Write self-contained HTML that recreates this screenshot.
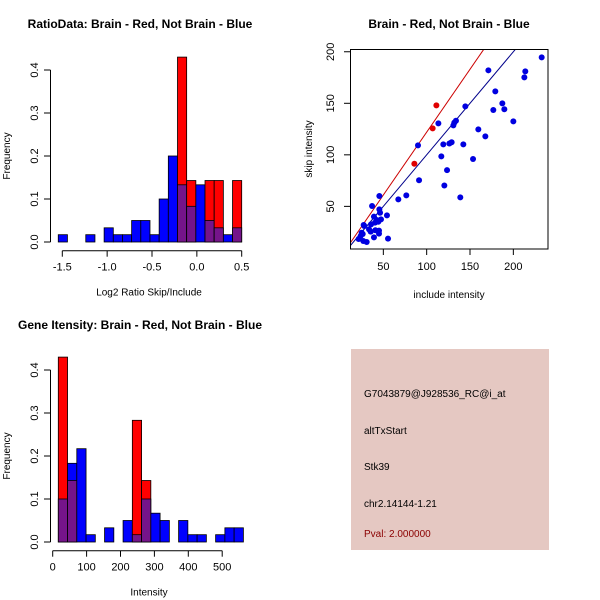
<!DOCTYPE html>
<html><head><meta charset="utf-8"><style>
body{margin:0;background:#fff;}
svg{display:block;font-family:"Liberation Sans",sans-serif;}
</style></head><body>
<svg id="c" width="600" height="600" xmlns="http://www.w3.org/2000/svg"></svg>
<script>
// Ratio histogram (bins of ~0.1025 from -1.545)
const ratioBlue=[0.017,0,0,0.017,0,0.033,0.017,0.017,0.05,0.05,0.017,0.1,0.2,0.133,0.083,0.133,0.05,0.033,0.017,0.033];
const ratioRed=[0,0,0,0,0,0,0,0,0,0,0,0,0,0.43,0.143,0,0.143,0.143,0,0.143];
const ratioXTicks=[-1.5,-1.0,-0.5,0.0,0.5];
const ratioXLabels=["-1.5","-1.0","-0.5","0.0","0.5"];
// Intensity histogram (bins ~27.3 from 16.5)
const intBlue=[0.1,0.183,0.217,0.017,0,0.033,0,0.05,0.017,0.1,0.067,0.05,0,0.05,0.017,0.017,0,0.017,0.033,0.033];
const intRed=[0.43,0.143,0,0,0,0,0,0,0.283,0.143,0,0,0,0,0,0,0,0,0,0];
const intXTicks=[0,100,200,300,400,500];
const freqTicks=[0,0.1,0.2,0.3,0.4];
const freqLabels=["0.0","0.1","0.2","0.3","0.4"];
// Scatter
const blueInc=[232.7,213.8,212.7,171.2,179.2,187.3,176.9,189.6,200,144.6,159.6,167.7,153.5,142.3,138.8,120.4,123.5,116.9,119.2,126.2,128.8,130.8,131.9,133.8,113.5,90,91.2,76.5,67.3,54.2,55.4,45.4,45.4,46.2,47.3,44.2,37,39.2,40.4,42.3,35.8,33.5,28.1,27.3,40.8,45,45,39.2,30.8,26.9,23.8,25,21.5,26.2,35.4];
const blueSkip=[194.6,181,175.2,182,161.6,149.9,143.5,144.2,132.5,147,124.7,117.9,95.9,110.2,58.7,70.3,85.2,98.5,110.2,111,112.2,128.6,131.2,133.1,130.5,109.2,75.3,60.7,56.8,41.3,18.7,60,47.1,43.8,37.4,35.1,50.3,40,34.2,36.8,32.5,27.7,30.9,31.9,26.8,26.5,23.5,19.9,15.4,16.4,21.2,24.4,18.3,23.2,25.5];
const redInc=[111.2,106.9,85.8];
const redSkip=[148,125.7,91.4];
const scXTicks=[50,100,150,200];
const scYTicks=[50,100,150,200];
const redSlope=1.22;

const svg=document.getElementById('c');
const NS='http://www.w3.org/2000/svg';
function el(tag,attrs,parent){const e=document.createElementNS(NS,tag);for(const k in attrs)e.setAttribute(k,attrs[k]);(parent||svg).appendChild(e);return e;}
function txt(x,y,s,attrs){const e=el('text',Object.assign({x:x,y:y},attrs||{}));e.textContent=s;return e;}

function hist(name,blue,red,x0,bw,xs,ys,xTicks,xLabels,axY,xTitle,title,titleY){
  const g=el('g',{});
  
  
  for(let i=0;i<blue.length;i++){
    const b=blue[i],r=red[i];
    const xa=xs(x0+i*bw),xb=xs(x0+(i+1)*bw);
    const mx=Math.max(b,r),mn=Math.min(b,r);
    if(mx<=0)continue;
    const c=b>=r?'#0000ff':'#ff0000';
    const rr=el('rect',{x:xa,y:ys(mx),width:xb-xa,height:ys(0)-ys(mx),fill:c,stroke:'#000','stroke-width':0.8},g);
    
    
    if(mn>0){
      const p=el('rect',{x:xa,y:ys(mn),width:xb-xa,height:ys(0)-ys(mn),fill:'#75148a',stroke:'#000','stroke-width':0.8},g);
      
      
    }
  }
  const ya=el('g',{},g);
  
  
  el('line',{x1:50.5,x2:50.5,y1:ys(0),y2:ys(0.4),stroke:'#000'},ya);
  freqTicks.forEach((t,i)=>{
    el('line',{x1:44,x2:50.5,y1:ys(t),y2:ys(t),stroke:'#000'},ya);
    txt(38,ys(t),freqLabels[i],{'font-size':11,'text-anchor':'middle',transform:`rotate(-90 38 ${ys(t)})`},ya);
  });
  const yt=txt(10,ys(0.2),'Frequency',{'font-size':10,'text-anchor':'middle',transform:`rotate(-90 10 ${ys(0.2)})`},g);
  
  
  const xa2=el('g',{},g);
  
  
  el('line',{x1:xs(xTicks[0]),x2:xs(xTicks[xTicks.length-1]),y1:axY,y2:axY,stroke:'#000'},xa2);
  xTicks.forEach((t,i)=>{
    el('line',{x1:xs(t),x2:xs(t),y1:axY,y2:axY+6,stroke:'#000'},xa2);
    txt(xs(t),axY+20,xLabels[i],{'font-size':11,'text-anchor':'middle'},xa2);
  });
  const xt=txt(149,axY+45,xTitle,{'font-size':10,'text-anchor':'middle'},g);
  
  
  const tt=txt(140,titleY,title,{'font-size':12,'font-weight':'bold','text-anchor':'middle'},g);
  
  
}
hist('ratio-histogram',ratioBlue,ratioRed,-1.545,0.10225,v=>62.3+(v+1.5)*89.7,v=>242-v*430,ratioXTicks,ratioXLabels,250.7,'Log2 Ratio Skip/Include','RatioData: Brain - Red, Not Brain - Blue',28);
hist('intensity-histogram',intBlue,intRed,16.5,27.3,v=>52.7+v*0.339,v=>542-v*430,intXTicks,intXTicks.map(String),550.7,'Intensity','Gene Itensity: Brain - Red, Not Brain - Blue',329);

const sx=v=>340+v*0.8667, sy=v=>257.9-v*1.0307;
const sg=el('g',{});


const cp=el('clipPath',{id:'cl'},sg);el('rect',{x:350.7,y:49,width:197.3,height:200},cp);
const bl=el('line',{x1:sx(0),y1:sy(0),x2:sx(260),y2:sy(260),stroke:'#00008b','stroke-width':1,'clip-path':'url(#cl)'},sg);


const rl=el('line',{x1:sx(0),y1:sy(0),x2:sx(260),y2:sy(260*redSlope),stroke:'#cc0000','stroke-width':1,'clip-path':'url(#cl)'},sg);


blueInc.forEach((v,i)=>{const c=el('circle',{cx:sx(v),cy:sy(blueSkip[i]),r:3,fill:'#0000e0'},sg);

});
redInc.forEach((v,i)=>{const c=el('circle',{cx:sx(v),cy:sy(redSkip[i]),r:3,fill:'#e00000'},sg);

});
el('rect',{x:350.5,y:49.5,width:197.5,height:199.5,fill:'none',stroke:'#000'},sg);
scXTicks.forEach(t=>{el('line',{x1:sx(t),x2:sx(t),y1:249,y2:255,stroke:'#000'},sg);txt(sx(t),270,String(t),{'font-size':11,'text-anchor':'middle'},sg);});
scYTicks.forEach(t=>{el('line',{x1:344,x2:350.5,y1:sy(t),y2:sy(t),stroke:'#000'},sg);txt(334,sy(t),String(t),{'font-size':11,'text-anchor':'middle',transform:`rotate(-90 334 ${sy(t)})`},sg);});
const sxt=txt(449,298,'include intensity',{'font-size':10,'text-anchor':'middle'},sg);


const syt=txt(312,149,'skip intensity',{'font-size':10,'text-anchor':'middle',transform:'rotate(-90 312 149)'},sg);


const stt=txt(449,28,'Brain - Red, Not Brain - Blue',{'font-size':12,'font-weight':'bold','text-anchor':'middle'},sg);



const ip=el('g',{});


el('rect',{x:351,y:349,width:198,height:201,fill:'#e5c8c2'},ip);
const lines=[['G7043879@J928536_RC@i_at',397,'#000','probe-id'],['altTxStart',434,'#000','event-type'],['Stk39',470,'#000','gene-name'],['chr2.14144-1.21',507,'#000','location'],['Pval: 2.000000',537,'#8b0000','p-value']];
lines.forEach(l=>{const t=txt(364,l[1],l[0],{'font-size':10,fill:l[2]},ip);

});
</script>
</body></html>
